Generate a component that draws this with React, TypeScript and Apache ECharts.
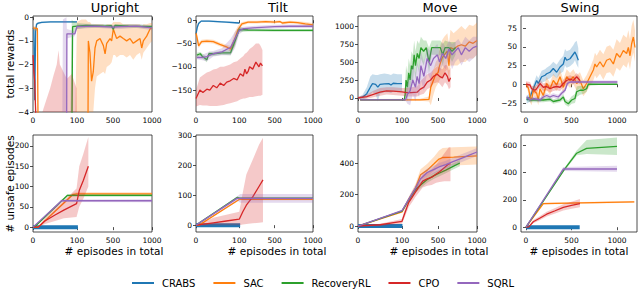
import React, { useEffect, useRef } from 'react';
import * as echarts from 'echarts';

const METHODS = ['CRABS', 'SAC', 'RecoveryRL', 'CPO', 'SQRL'];
const COLORS = ['#1f77b4', '#ff7f0e', '#2ca02c', '#d62728', '#9467bd'];
const TASKS = ['Upright', 'Tilt', 'Move', 'Swing'];
const X_TICKS_PIECE = [0, 100, 500, 1000];
const X_TICKS_SWING = [0, 500, 1000];
const Y_TICKS_REWARD = [[-4, -3, -2, -1, 0], [-150, -100, -50, 0], [0, 250, 500, 750, 1000], [-25, 0, 25, 50, 75]];
const Y_TICKS_UNSAFE = [[0, 50, 100, 150, 200], [0, 100, 200, 300], [0, 200, 400], [0, 200, 400, 600]];

// [episode, mean, lower, upper]
// ---------- Upright: total rewards ----------
const uprightRewardCRABS = [[0, -0.45, -0.5, -0.4], [2, -0.5, -0.6, -0.4], [4, -3.5, -3.8, -3.2], [6, -0.6, -0.9, -0.4], [8, -0.3, -0.36, -0.25], [12, -0.25, -0.3, -0.2], [20, -0.22, -0.26, -0.18], [40, -0.2, -0.24, -0.17], [70, -0.2, -0.23, -0.17], [100, -0.2, -0.23, -0.17]];
const uprightRewardSAC = [[0, -0.45, -0.55, -0.38], [10, -0.48, -0.58, -0.4], [12, -6, -10, -5], [95, -6, -10, -5], [100, -6, -12, -0.2], [150, -6, -12, -0.1], [200, -5, -10, -0.1], [222, -4.5, -8, -0.2], [226, -1.0, -4.5, -0.2], [244, -1.5, -4.5, -0.2], [262, -2.7, -4.2, -0.3], [281, -2.3, -4, -0.3], [300, -1.3, -3, -0.3], [319, -1.0, -2.5, -0.3], [356, -0.9, -2.4, -0.3], [393, -1.2, -2.3, -0.3], [412, -1.55, -2.4, -0.4], [430, -1.1, -2.1, -0.3], [467, -0.9, -2, -0.3], [485, -1.0, -1.9, -0.3], [504, -0.5, -1.6, -0.2], [525, -0.7, -1.6, -0.2], [547, -0.9, -1.7, -0.2], [590, -0.8, -1.6, -0.2], [632, -0.9, -1.6, -0.3], [675, -1.0, -1.7, -0.3], [718, -0.9, -1.6, -0.3], [760, -1.1, -1.8, -0.3], [803, -1.0, -1.6, -0.3], [846, -0.9, -1.5, -0.3], [868, -1.3, -1.8, -0.4], [889, -1.0, -1.5, -0.3], [932, -0.8, -1.3, -0.3], [975, -0.5, -1.1, -0.25], [1000, -0.45, -1.0, -0.25]];
const uprightRewardRecoveryRL = [[84, -8, -12, -6], [88, -6, -10, -0.1], [90, -0.4, -0.7, -0.15], [100, -0.38, -0.5, -0.25], [200, -0.35, -0.45, -0.28], [400, -0.38, -0.45, -0.3], [480, -0.36, -0.44, -0.3], [504, -0.5, -0.6, -0.35], [525, -0.35, -0.42, -0.3], [700, -0.38, -0.45, -0.3], [1000, -0.4, -0.48, -0.33]];
const uprightRewardCPO = [[0, -1.6, -1.9, -1.4], [2, -2.3, -2.6, -2.0], [4, -2.7, -3.2, -2.3], [7, -4.6, -6, -3.8], [10, -8, -12, -5], [15, -9, -14, -4.5], [23, -9, -14, -3.9], [30, -9, -14, -3.5], [39, -9, -14, -3.0], [46, -9, -14, -2.5], [54, -9, -14, -2.0], [58, -9, -14, -1.4], [61, -9, -14, -2.0], [69, -9, -14, -2.3], [77, -9, -14, -2.6], [88, -9, -14, -2.4], [99, -9, -14, -3.0], [105, -9, -14, -6]];
const uprightRewardSQRL = [[66, -8, -12, -6], [68, -8, -12, -0.1], [76, -8, -12, 0], [77, -0.7, -0.9, -0.5], [95, -0.7, -0.8, -0.6], [100, -0.4, -0.5, -0.3], [300, -0.38, -0.45, -0.3], [504, -0.42, -0.5, -0.33], [600, -0.4, -0.5, -0.32], [800, -0.38, -0.45, -0.3], [1000, -0.45, -0.55, -0.35]];

// ---------- Tilt: total rewards ----------
const tiltRewardCRABS = [[0, -30, -35, -25], [3, -15, -20, -10], [6, -7, -10, -4], [12, -2, -4, 0], [30, -2, -4, 0], [50, -3, -5, -1], [70, -4, -6, -2], [100, -6, -8, -4]];
const tiltRewardSAC = [[0, -28, -32, -24], [3, -40, -45, -30], [6, -55, -60, -48], [13, -46, -50, -42], [25, -45, -49, -41], [40, -46, -50, -42], [55, -52, -56, -48], [72, -58, -62, -53], [80, -62, -68, -55], [90, -40, -55, -25], [97, -20, -30, -12], [130, -8, -12, -4], [200, -4, -7, -1], [300, -4, -7, -1], [400, -3, -6, 0], [500, -4, -7, -1], [569, -3, -5, 0], [600, -6, -9, -3], [700, -4, -7, -1], [800, -5, -8, -2], [900, -8, -12, -4], [1000, -10, -14, -6]];
const tiltRewardRecoveryRL = [[2, -75, -80, -70], [10, -72, -77, -68], [15, -78, -83, -72], [25, -85, -90, -78], [30, -72, -78, -67], [40, -72, -77, -68], [60, -70, -74, -66], [80, -70, -75, -64], [90, -45, -55, -35], [100, -20, -26, -15], [200, -21, -24, -18], [500, -22, -25, -19], [1000, -22, -25, -19]];
const tiltRewardCPO = [[0, -168, -185, -150], [9, -150, -182, -123], [16, -155, -183, -118], [25, -148, -183, -112], [32, -150, -184, -110], [40, -140, -184, -106], [48, -145, -184, -104], [56, -135, -183, -100], [64, -140, -182, -100], [71, -133, -180, -98], [79, -130, -178, -95], [87, -125, -176, -90], [95, -128, -174, -88], [111, -115, -170, -82], [146, -120, -168, -77], [164, -105, -168, -72], [182, -115, -167, -70], [200, -110, -166, -66], [217, -100, -165, -62], [252, -105, -165, -57], [288, -90, -163, -50], [323, -100, -162, -50], [340, -92, -162, -55], [362, -98, -160, -64]];
const tiltRewardSQRL = [[2, -80, -84, -76], [15, -80, -86, -74], [25, -78, -88, -70], [40, -72, -78, -66], [60, -68, -75, -60], [80, -58, -75, -40], [90, -40, -60, -25], [100, -22, -30, -15], [150, -18, -22, -14], [300, -16, -20, -12], [500, -14, -18, -10], [700, -13, -17, -9], [1000, -13, -17, -9]];

// ---------- Move: total rewards ----------
const moveRewardCRABS = [[0, 0, -10, 10], [10, 10, -20, 40], [20, 60, 0, 150], [28, 150, 50, 300], [33, 200, 80, 330], [40, 190, 60, 320], [45, 150, -50, 320], [50, 190, 60, 330], [60, 195, 80, 340], [70, 200, 80, 330], [75, 180, 70, 320], [80, 205, 90, 340], [90, 200, 90, 330], [100, 200, 90, 330]];
const moveRewardSAC = [[5, -25, -35, -15], [300, -25, -40, -10], [400, -20, -50, 20], [420, 150, -100, 300], [450, 250, 50, 400], [475, 330, 150, 500], [500, 350, 200, 550], [520, 450, 250, 700], [550, 550, 300, 800], [580, 600, 350, 850], [620, 650, 400, 900], [640, 450, 250, 750], [660, 700, 450, 950], [700, 680, 450, 900], [750, 720, 450, 950], [800, 740, 500, 1000], [850, 720, 500, 950], [900, 780, 550, 1020], [950, 760, 550, 1000], [1000, 800, 600, 1050]];
const moveRewardRecoveryRL = [[5, -25, -35, -15], [100, -25, -35, -15], [125, -25, -40, -10], [135, 50, -50, 200], [145, 250, 50, 450], [160, 150, -50, 350], [175, 350, 150, 550], [190, 250, 50, 450], [205, 450, 250, 650], [220, 400, 200, 600], [235, 600, 400, 800], [250, 450, 250, 650], [270, 620, 450, 800], [290, 550, 350, 750], [310, 700, 550, 850], [340, 650, 450, 800], [370, 700, 600, 800], [400, 500, 350, 700], [430, 700, 600, 800], [470, 700, 600, 800], [500, 700, 580, 800], [530, 700, 600, 800], [560, 600, 450, 750], [590, 700, 600, 800], [640, 700, 600, 780], [680, 650, 500, 780], [725, 700, 600, 780]];
const moveRewardCPO = [[0, 0, -20, 20], [20, 20, -10, 50], [35, 50, 10, 100], [50, 80, 30, 140], [65, 100, 50, 150], [80, 95, 40, 150], [100, 85, 30, 140], [156, 75, 20, 140], [200, 75, 20, 150], [268, 80, 20, 160], [300, 120, 40, 230], [343, 150, 60, 280], [380, 220, 120, 330], [418, 250, 150, 350], [450, 300, 200, 400], [493, 330, 220, 440], [520, 300, 200, 420], [556, 280, 150, 400], [590, 350, 220, 460], [620, 300, 180, 450], [640, 230, 120, 380], [661, 280, 150, 420]];
const moveRewardSQRL = [[5, -25, -35, -15], [100, -25, -35, -15], [140, -25, -40, 0], [160, 50, -80, 200], [190, 100, -100, 300], [220, 250, 50, 450], [250, 150, -50, 350], [268, 300, 100, 500], [290, 200, 0, 400], [310, 450, 250, 650], [343, 300, 100, 500], [380, 550, 350, 700], [418, 450, 250, 650], [450, 550, 400, 700], [493, 600, 450, 750], [520, 500, 350, 650], [556, 620, 450, 780], [600, 550, 400, 700], [640, 680, 550, 800], [680, 600, 400, 750], [720, 650, 500, 780], [760, 700, 550, 820], [800, 600, 450, 750], [850, 700, 550, 850], [900, 650, 500, 800], [950, 700, 550, 850], [1000, 720, 600, 850]];

// ---------- Swing: total rewards ----------
const swingRewardCRABS = [[7, -21, -26, -16], [44, -17, -23, -11], [80, -6, -12, 0], [117, 5, -2, 12], [135, 1, -6, 8], [172, 10, 2, 18], [209, 12, 4, 20], [227, 14, 6, 22], [264, 16, 8, 25], [300, 21, 12, 30], [337, 16, 8, 26], [374, 23, 14, 33], [410, 27, 17, 38], [429, 36, 25, 47], [447, 32, 22, 44], [484, 34, 24, 46], [520, 40, 28, 52], [538, 43, 32, 56], [557, 38, 26, 58], [575, 32, 22, 48]];
const swingRewardSAC = [[0, 0, -3, 3], [29, -6, -12, 0], [44, -17, -24, -10], [62, -21, -28, -14], [80, -8, -15, -1], [117, -12, -20, -4], [135, -21, -28, -12], [154, -6, -14, 2], [190, -15, -23, -6], [227, 1, -8, 10], [264, -6, -14, 2], [300, 5, -4, 14], [337, -1, -9, 8], [374, 10, 0, 20], [410, -4, -12, 6], [447, 10, 0, 20], [484, 5, -5, 15], [520, 10, 0, 20], [557, 1, -9, 12], [593, 5, -5, 16], [630, -6, -16, 5], [666, 1, -10, 12], [703, 10, -2, 22], [740, 19, 5, 33], [758, 27, 12, 42], [776, 23, 8, 38], [813, 30, 14, 46], [850, 23, 6, 40], [886, 32, 15, 50], [923, 34, 16, 52], [960, 27, 10, 46], [996, 41, 22, 60], [1033, 36, 18, 55], [1070, 45, 26, 66], [1106, 41, 22, 62], [1125, 49, 30, 72], [1143, 38, 20, 60], [1161, 54, 34, 78], [1180, 63, 42, 86], [1198, 49, 30, 72]];
const swingRewardRecoveryRL = [[7, -19, -22, -16], [44, -21, -24, -18], [117, -21, -24, -18], [190, -21, -24, -18], [264, -20, -23, -17], [300, -23, -26, -20], [374, -21, -24, -18], [410, -17, -21, -13], [429, -23, -27, -19], [465, -26, -30, -22], [502, -21, -26, -16], [538, -19, -25, -13], [557, -10, -17, -3], [593, -8, -14, -2], [630, -8, -13, -3], [666, -6, -10, -2], [685, 0, -2, 2], [800, 0, -1, 1], [1004, 0, -1, 1]];
const swingRewardCPO = [[0, 0, -4, 4], [44, -1, -5, 3], [62, -6, -10, -2], [99, -8, -13, -3], [117, -6, -11, -1], [154, 1, -4, 6], [190, -4, -9, 1], [227, -3, -8, 2], [264, -6, -11, -1], [300, -4, -9, 1], [337, -3, -8, 2], [374, -4, -9, 1], [410, 1, -4, 6], [447, 5, 0, 10], [484, 7, 2, 12], [520, 5, 0, 10], [557, 10, 4, 15], [593, 5, 0, 10]];
const swingRewardSQRL = [[7, -17, -20, -14], [44, -21, -24, -18], [80, -19, -22, -16], [154, -21, -24, -18], [190, -17, -20, -14], [227, -15, -18, -12], [264, -17, -20, -14], [300, -15, -18, -12], [355, -17, -20, -14], [392, -12, -15, -9], [429, -8, -11, -5], [455, 1, -2, 4], [484, 3, 1, 5], [700, 3, 1, 5], [1004, 3, 1, 5]];

// ---------- Upright: # unsafe episodes ----------
const uprightUnsafeCRABS = [[0, 0], [110, 0]];
const uprightUnsafeSAC = [[0, 0, 0, 0], [12, 0, 0, 2], [90, 80, 76, 84], [100, 82, 78, 86], [1000, 82, 78, 86]];
const uprightUnsafeRecoveryRL = [[0, 0, 0, 0], [5, 2, 0, 4], [78, 78, 75, 81], [1000, 78, 75, 81]];
const uprightUnsafeCPO = [[0, 0, 0, 0], [12, 0, 0, 3], [27, 15, 8, 22], [50, 30, 15, 48], [70, 42, 22, 65], [99, 58, 25, 95], [125, 90, 50, 150], [170, 115, 70, 180], [226, 150, 100, 222]];
const uprightUnsafeSQRL = [[0, 0, 0, 0], [65, 65, 62, 68], [1000, 65, 61, 69]];

// ---------- Tilt: # unsafe episodes ----------
const tiltUnsafeCRABS = [[0, 0], [110, 0]];
const tiltUnsafeSAC = [[0, 0, 0, 0], [7, 0, 0, 2], [103, 87, 84, 90], [1000, 87, 84, 90]];
const tiltUnsafeRecoveryRL = [[0, 0, 0, 0], [95, 93, 90, 96], [105, 91, 88, 94], [1000, 91, 88, 94]];
const tiltUnsafeCPO = [[0, 0, 0, 0], [10, 2, 0, 5], [40, 8, 0, 25], [70, 14, 0, 35], [100, 20, 0, 45], [140, 45, 2, 110], [180, 67, 4, 170], [252, 95, 6, 220], [323, 130, 8, 270], [368, 152, 10, 294]];
const tiltUnsafeSQRL = [[0, 0, 0, 0], [95, 90, 84, 96], [110, 90, 75, 105], [1000, 90, 75, 105]];

// ---------- Move: # unsafe episodes ----------
const moveUnsafeCRABS = [[0, 0], [105, 0]];
const moveUnsafeSAC = [[0, 0, 0, 0], [100, 90, 85, 95], [175, 170, 155, 185], [249, 240, 215, 265], [306, 325, 290, 360], [381, 355, 315, 395], [456, 395, 350, 440], [513, 425, 375, 480], [560, 435, 385, 495], [700, 438, 385, 500], [1000, 445, 390, 505]];
const moveUnsafeRecoveryRL = [[0, 0, 0, 0], [100, 95, 90, 100], [175, 165, 150, 180], [249, 230, 210, 250], [306, 260, 240, 280], [381, 295, 275, 315], [456, 320, 300, 340], [513, 335, 315, 355], [600, 355, 335, 375], [700, 380, 360, 400], [780, 400, 380, 420]];
const moveUnsafeCPO = [[0, 0, 0, 0], [50, 8, 0, 15], [100, 30, 15, 45], [130, 80, 55, 105], [175, 150, 120, 180], [210, 180, 150, 210], [249, 215, 185, 245], [290, 250, 215, 285], [330, 285, 245, 325], [381, 300, 255, 345], [430, 310, 260, 360], [480, 330, 275, 390], [520, 345, 280, 420], [580, 370, 285, 460], [640, 395, 285, 500], [660, 395, 285, 500]];
const moveUnsafeSQRL = [[0, 0, 0, 0], [100, 98, 93, 103], [175, 170, 155, 185], [249, 240, 220, 260], [306, 300, 275, 325], [381, 340, 315, 365], [456, 360, 335, 385], [513, 375, 350, 400], [600, 390, 365, 415], [700, 410, 385, 435], [800, 430, 405, 455], [900, 450, 425, 475], [1000, 470, 445, 495]];

// ---------- Swing: # unsafe episodes ----------
const swingUnsafeCRABS = [[0, 0], [590, 0]];
const swingUnsafeSAC = [[0, 0, 0, 0], [190, 172, 166, 178], [600, 178, 172, 184], [1190, 185, 179, 191]];
const swingUnsafeRecoveryRL = [[0, 0, 0, 0], [420, 420, 410, 430], [557, 540, 525, 560], [666, 575, 535, 637], [1000, 590, 527, 654]];
const swingUnsafeCPO = [[0, 0, 0, 0], [30, 2, 0, 5], [80, 40, 28, 52], [150, 65, 50, 80], [227, 95, 78, 112], [320, 120, 100, 140], [410, 145, 122, 168], [500, 160, 135, 185], [593, 172, 145, 205]];
const swingUnsafeSQRL = [[0, 0, 0, 0], [410, 425, 410, 440], [1000, 425, 404, 448]];

// ---------- layout ----------
const COLS = [
  { left: 33, width: 119 },
  { left: 196, width: 117 },
  { left: 358, width: 119 },
  { left: 521, width: 116 },
];
const ROWS = [
  { top: 16, height: 96 },
  { top: 135, height: 97 },
];
const TITLE_X = [115, 278, 440, 580];
const XNAME_X = [114, 277, 439, 579];

const pieceX = (v: number) => (v <= 100 ? v * 0.44 : v <= 500 ? 44 + (v - 100) * 0.09 : 80 + (v - 500) * 0.078);
const linX = (v: number) => v;

const REWARD_Y = [[-4, 0.05], [-197, 9], [-195, 1140], [-37, 91]];
const UNSAFE_Y = [[-12, 227], [-23, 303], [-38, 578], [-35, 673]];

const REWARD_CURVES = [
  [uprightRewardCRABS, uprightRewardSAC, uprightRewardRecoveryRL, uprightRewardCPO, uprightRewardSQRL],
  [tiltRewardCRABS, tiltRewardSAC, tiltRewardRecoveryRL, tiltRewardCPO, tiltRewardSQRL],
  [moveRewardCRABS, moveRewardSAC, moveRewardRecoveryRL, moveRewardCPO, moveRewardSQRL],
  [swingRewardCRABS, swingRewardSAC, swingRewardRecoveryRL, swingRewardCPO, swingRewardSQRL],
];
const UNSAFE_CURVES = [
  [uprightUnsafeCRABS, uprightUnsafeSAC, uprightUnsafeRecoveryRL, uprightUnsafeCPO, uprightUnsafeSQRL],
  [tiltUnsafeCRABS, tiltUnsafeSAC, tiltUnsafeRecoveryRL, tiltUnsafeCPO, tiltUnsafeSQRL],
  [moveUnsafeCRABS, moveUnsafeSAC, moveUnsafeRecoveryRL, moveUnsafeCPO, moveUnsafeSQRL],
  [swingUnsafeCRABS, swingUnsafeSAC, swingUnsafeRecoveryRL, swingUnsafeCPO, swingUnsafeSQRL],
];

const FONT = 'DejaVu Sans';

function rgba(hex: string, a: number) {
  const n = parseInt(hex.slice(1), 16);
  return `rgba(${(n >> 16) & 255},${(n >> 8) & 255},${n & 255},${a})`;
}

function buildOption() {
  const grids: any[] = [];
  const xAxes: any[] = [];
  const yAxes: any[] = [];
  const series: any[] = [];
  const graphics: any[] = [];

  for (let row = 0; row < 2; row++) {
    for (let col = 0; col < 4; col++) {
      const idx = row * 4 + col;
      const isSwing = col === 3;
      const xf = isSwing ? linX : pieceX;
      const xTicks = isSwing ? X_TICKS_SWING : X_TICKS_PIECE;
      const xVals = xTicks.map(xf);
      const yTicks = row === 0 ? Y_TICKS_REWARD[col] : Y_TICKS_UNSAFE[col];
      const yRange = row === 0 ? REWARD_Y[col] : UNSAFE_Y[col];
      grids.push({
        left: COLS[col].left,
        top: ROWS[row].top,
        width: COLS[col].width,
        height: ROWS[row].height,
        show: true,
        borderColor: '#222',
        borderWidth: 0.8,
        backgroundColor: 'transparent',
        containLabel: false,
      });
      xAxes.push({
        type: 'value',
        gridIndex: idx,
        min: isSwing ? -55 : 0,
        max: isSwing ? 1220 : pieceX(1000),
        axisLine: { show: false },
        splitLine: { show: false },
        axisTick: { show: true, inside: false, length: 3, customValues: xVals, lineStyle: { color: '#222', width: 0.8 } },
        axisLabel: {
          show: true,
          customValues: xVals,
          margin: 4,
          fontSize: 7.5,
          fontFamily: FONT,
          color: '#000',
          formatter: (v: number) => {
            const i = xVals.findIndex((t) => Math.abs(t - v) < 1e-6);
            return i >= 0 ? String(xTicks[i]) : '';
          },
        },
      });
      yAxes.push({
        type: 'value',
        gridIndex: idx,
        min: yRange[0],
        max: yRange[1],
        axisLine: { show: false },
        splitLine: { show: false },
        axisTick: { show: true, inside: false, length: 3, customValues: yTicks, lineStyle: { color: '#222', width: 0.8 } },
        axisLabel: {
          show: true,
          customValues: yTicks,
          margin: 4,
          fontSize: 7.5,
          fontFamily: FONT,
          color: '#000',
          formatter: (v: number) => String(v).replace('-', '\u2212'),
        },
      });

      const curves = row === 0 ? REWARD_CURVES[col] : UNSAFE_CURVES[col];
      curves.forEach((pts: number[][], m: number) => {
        const color = COLORS[m];
        if (pts[0].length >= 4) {
          series.push({
            type: 'custom',
            name: METHODS[m] + ' band',
            xAxisIndex: idx,
            yAxisIndex: idx,
            clip: true,
            silent: true,
            z: 1 + m * 2,
            data: [[xf(pts[0][0]), pts[0][1]]],
            renderItem: (params: any, api: any) => {
              const upper = pts.map((p) => api.coord([xf(p[0]), p[3]]));
              const lower = pts.slice().reverse().map((p) => api.coord([xf(p[0]), p[2]]));
              return {
                type: 'polygon',
                shape: { points: upper.concat(lower) },
                style: { fill: rgba(color, 0.25), stroke: 'none' },
              };
            },
          });
        }
        const thick = row === 1 && m === 0;
        series.push({
          type: 'line',
          name: METHODS[m],
          xAxisIndex: idx,
          yAxisIndex: idx,
          data: pts.map((p) => [xf(p[0]), p[1]]),
          showSymbol: false,
          symbol: 'none',
          clip: true,
          z: 2 + m * 2,
          color,
          lineStyle: { width: thick ? 4 : 1.3, color },
          itemStyle: { color },
          silent: true,
        });
      });
    }
  }

  TASKS.forEach((t, i) => {
    graphics.push({
      type: 'text',
      x: TITLE_X[i],
      y: 7,
      style: { text: t, fontSize: 13, fontFamily: FONT, fill: '#000', align: 'center', verticalAlign: 'middle' },
    });
    graphics.push({
      type: 'text',
      x: XNAME_X[i],
      y: 251,
      style: { text: '# episodes in total', fontSize: 10.5, fontFamily: FONT, fill: '#000', align: 'center', verticalAlign: 'middle' },
    });
  });
  graphics.push({
    type: 'text',
    x: 10,
    y: 64,
    rotation: Math.PI / 2,
    style: { text: 'total rewards', fontSize: 10.5, fontFamily: FONT, fill: '#000', align: 'center', verticalAlign: 'middle' },
  });
  graphics.push({
    type: 'text',
    x: 10,
    y: 184,
    rotation: Math.PI / 2,
    style: { text: '# unsafe episodes', fontSize: 10.5, fontFamily: FONT, fill: '#000', align: 'center', verticalAlign: 'middle' },
  });

  return {
    animation: false,
    backgroundColor: '#fff',
    grid: grids,
    xAxis: xAxes,
    yAxis: yAxes,
    series,
    graphic: graphics,
    legend: {
      data: METHODS,
      left: 132,
      top: 278,
      padding: 0,
      icon: 'rect',
      itemWidth: 22,
      itemHeight: 2,
      itemGap: 18,
      selectedMode: false,
      textStyle: { fontSize: 10, fontFamily: FONT, color: '#000', padding: [0, 0, 0, 3] },
    },
  };
}

export default function App() {
  const ref = useRef<HTMLDivElement>(null);
  useEffect(() => {
    if (!ref.current) return;
    const chart = echarts.init(ref.current, undefined, { renderer: 'svg' });
    chart.setOption(buildOption() as any);
    return () => chart.dispose();
  }, []);
  return <div ref={ref} style={{ width: 640, height: 292, position: 'absolute', left: 0, top: 0 }} />;
}
